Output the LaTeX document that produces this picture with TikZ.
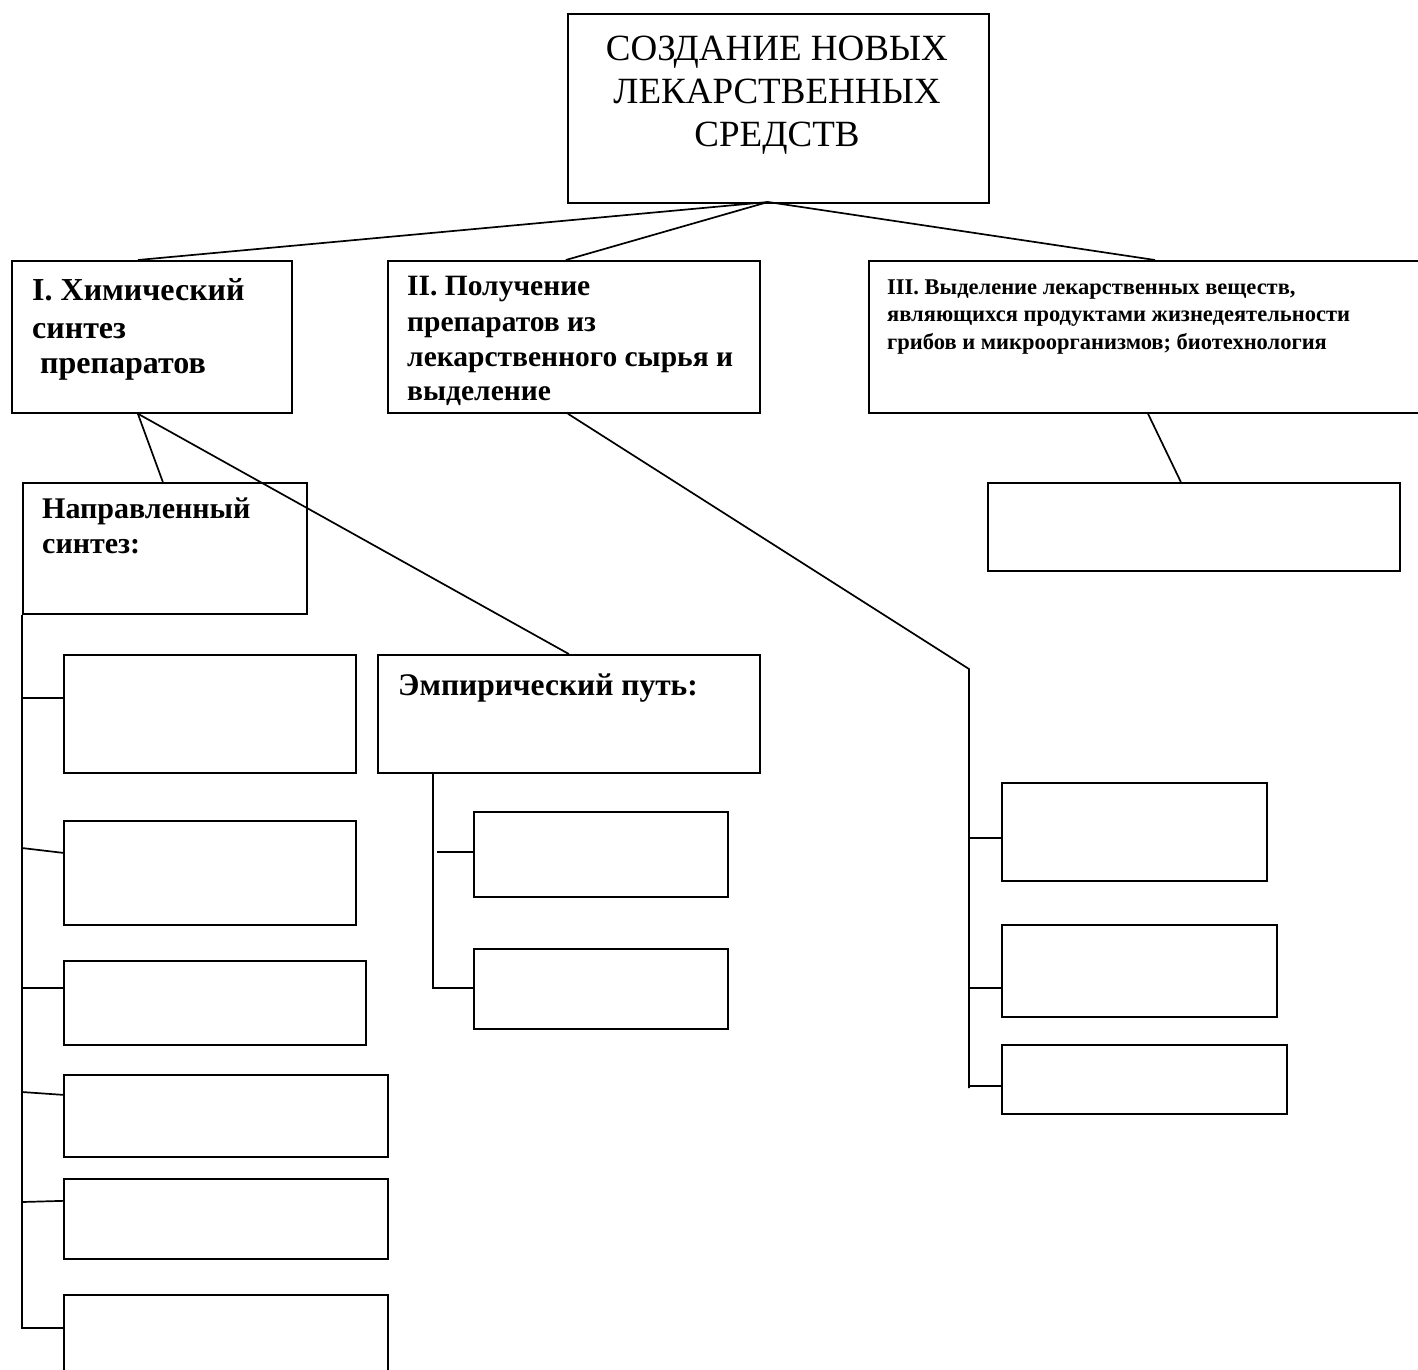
\documentclass[tikz,border=0pt]{standalone}
\usepackage{fontspec}
\setmainfont{Liberation Serif}
\begin{document}
\begin{tikzpicture}[x=1pt,y=-1pt,
  box/.style={draw, line width=1.7pt, rectangle, inner sep=0pt, anchor=north west},
  conn/.style={line width=1.7pt},
  ttl/.style={font=\fontsize{37}{44}\selectfont, anchor=base, inner sep=0pt},
  hA/.style={font=\fontsize{32}{37}\selectfont\bfseries, anchor=base west, inner sep=0pt},
  hB/.style={font=\fontsize{29.5}{34}\selectfont\bfseries, anchor=base west, inner sep=0pt},
  hC/.style={font=\fontsize{22.5}{27}\selectfont\bfseries, anchor=base west, inner sep=0pt},
  hD/.style={font=\fontsize{30}{35}\selectfont\bfseries, anchor=base west, inner sep=0pt},
  hE/.style={font=\fontsize{31.5}{35}\selectfont\bfseries, anchor=base west, inner sep=0pt}]
\useasboundingbox (0,0) rectangle (1418,1369);
\clip (0,0) rectangle (1418,1369);
% boxes
\node[box, minimum width=421pt, minimum height=189pt] (top) at (567,13) {};
\node[box, minimum width=280pt, minimum height=152pt] (b1) at (11,260) {};
\node[box, minimum width=372pt, minimum height=152pt] (b2) at (387,260) {};
\node[box, minimum width=560pt, minimum height=152pt] (b3) at (868,260) {};
\node[box, minimum width=412pt, minimum height=88pt] (b3a) at (987,482) {};
\node[box, minimum width=284pt, minimum height=131pt] (napr) at (22,482) {};
\node[box, minimum width=292pt, minimum height=118pt] (L1) at (63,654) {};
\node[box, minimum width=292pt, minimum height=104pt] (L2) at (63,820) {};
\node[box, minimum width=302pt, minimum height=84pt] (L3) at (63,960) {};
\node[box, minimum width=324pt, minimum height=82pt] (L4) at (63,1074) {};
\node[box, minimum width=324pt, minimum height=80pt] (L5) at (63,1178) {};
\node[box, minimum width=324pt, minimum height=90pt] (L6) at (63,1294) {};
\node[box, minimum width=382pt, minimum height=118pt] (emp) at (377,654) {};
\node[box, minimum width=254pt, minimum height=85pt] (E1) at (473,811) {};
\node[box, minimum width=254pt, minimum height=80pt] (E2) at (473,948) {};
\node[box, minimum width=265pt, minimum height=98pt] (R1) at (1001,782) {};
\node[box, minimum width=275pt, minimum height=92pt] (R2) at (1001,924) {};
\node[box, minimum width=285pt, minimum height=69pt] (R3) at (1001,1044) {};
% texts
\node[ttl] (t1) at (777,60) {СОЗДАНИЕ НОВЫХ};
\node[ttl] (t2) at (777,103) {ЛЕКАРСТВЕННЫХ};
\node[ttl] (t3) at (777,146) {СРЕДСТВ};
\node[hA] (a1) at (32,300) {I. Химический};
\node[hA] (a2) at (32,338) {синтез};
\node[hA] (a3) at (40,373) {препаратов};
\node[hB] (c1) at (407,295) {II. Получение};
\node[hB] (c2) at (407,331) {препаратов из};
\node[hB] (c3) at (407,366) {лекарственного сырья и};
\node[hB] (c4) at (407,400) {выделение};
\node[hC] (d1) at (887,294) {III. Выделение лекарственных веществ,};
\node[hC] (d2) at (887,321) {являющихся продуктами жизнедеятельности};
\node[hC] (d3) at (887,349) {грибов и микроорганизмов; биотехнология};
\node[hD] (n1) at (42,518) {Направленный};
\node[hD] (n2) at (42,553) {синтез:};
\node[hE] (m1) at (398,695) {Эмпирический путь:};
% connector coordinates
\coordinate (apex) at (768,202);
\coordinate (rbend) at (969,669);
\coordinate (rend) at (969,1088);
\coordinate (rc1) at (969,838);
\coordinate (rc2) at (969,988);
\coordinate (rc3) at (969,1086);
\coordinate (lend) at (22,1328);
\coordinate (lc1) at (22,698);
\coordinate (lc2) at (22,848);
\coordinate (lc3) at (22,988);
\coordinate (lc4) at (22,1092);
\coordinate (lc5) at (22,1202);
\coordinate (etop) at (433,772);
\coordinate (eend) at (433,988);
\coordinate (ec1) at (437,852);
% connectors
\draw[conn] (apex) -- ([shift={(-14,0)}]b1.north);
\draw[conn] (apex) -- ([shift={(-8,0)}]b2.north);
\draw[conn] (apex) -- ([shift={(287,0)}]b3.north west);
\draw[conn] ([shift={(-14,0)}]b1.south) -- ([shift={(-2,0)}]napr.north);
\draw[conn] ([shift={(-14,0)}]b1.south) -- (emp.north);
\draw[conn] ([shift={(280,0)}]b3.south west) -- ([shift={(-13,0)}]b3a.north);
\draw[conn] ([shift={(-6,0)}]b2.south) -- (rbend) -- (rend);
\draw[conn] (rc1) -- (rc1 -| R1.west);
\draw[conn] (rc2) -- (rc2 -| R2.west);
\draw[conn] (rc3) -- (rc3 -| R3.west);
\draw[conn] (napr.south west) -- (lend) -- (lend -| L6.west);
\draw[conn] (lc1) -- (lc1 -| L1.west);
\draw[conn] (lc2) -- ([shift={(0,-20)}]L2.west);
\draw[conn] (lc3) -- (lc3 -| L3.west);
\draw[conn] (lc4) -- ([shift={(0,-21)}]L4.west);
\draw[conn] (lc5) -- ([shift={(0,-18)}]L5.west);
\draw[conn] (etop) -- (eend) -- (eend -| E2.west);
\draw[conn] (ec1) -- (ec1 -| E1.west);
\end{tikzpicture}
\end{document}
